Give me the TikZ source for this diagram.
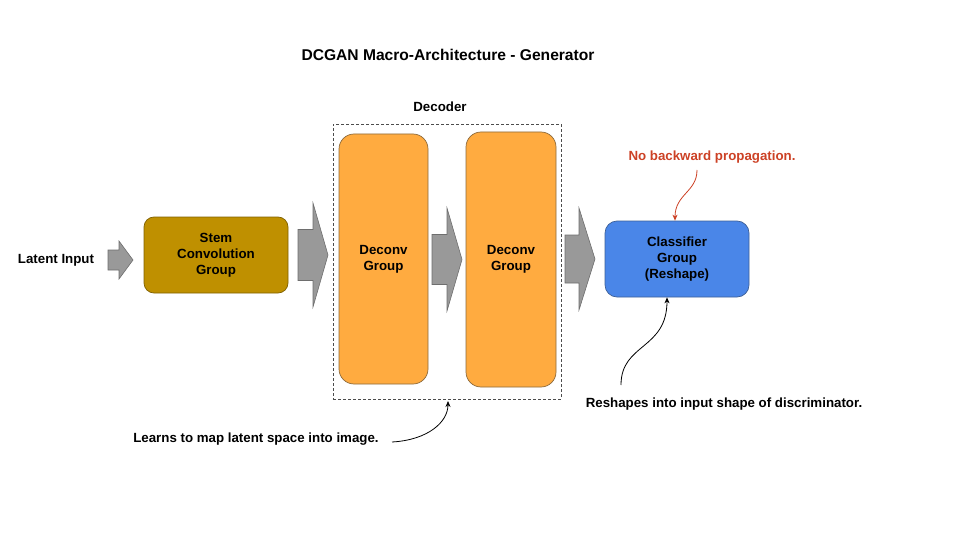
\documentclass[tikz,border=0pt]{standalone}
\usepackage{fontspec}
\setmainfont{Liberation Sans}
\usetikzlibrary{arrows.meta}
\definecolor{stemfill}{HTML}{BF9000}
\definecolor{stemline}{HTML}{7F6000}
\definecolor{decfill}{HTML}{FFAB40}
\definecolor{decline}{HTML}{8C6A3C}
\definecolor{clsfill}{HTML}{4A86E8}
\definecolor{clsline}{HTML}{3C5F96}
\definecolor{arrfill}{HTML}{999999}
\definecolor{arrline}{HTML}{6E6E6E}
\definecolor{notered}{HTML}{CC4125}
\newcommand{\txt}{\fontsize{13.3}{16}\selectfont\bfseries}
% block arrow: start, head start, tip, centre y, shaft half, head half
\newcommand{\blockarrow}[6]{\filldraw[blk] (#1,{#4-#5}) -- (#2,{#4-#5}) -- (#2,{#4-#6}) -- (#3,#4) -- (#2,{#4+#6}) -- (#2,{#4+#5}) -- (#1,{#4+#5}) -- cycle;}

\begin{document}
\begin{tikzpicture}[x=1pt, y=-1pt, anno/.style = {line width=0.8pt,-{Stealth[length = 6pt, width = 5pt]}}]
    \useasboundingbox (0,0) rectangle (960,540);
    \tikzstyle{blk}=[fill=arrfill, draw=arrline, line width=0.6pt]
    \tikzstyle{box}=[draw, line width=0.7pt, align=center, font=\txt, inner sep=0pt]
    \tikzstyle{lbl}=[align=center, font=\txt, inner sep=0pt]

    \node[lbl, font=\fontsize{15.6}{18}\selectfont\bfseries] (title) at (448,55) {DCGAN Macro-Architecture - Generator};

    \node[lbl] (latent) at (56,260) {Latent Input};
    \node[box, fill=stemfill, draw=stemline, rounded corners=10pt, minimum width=144pt, minimum height=76pt] (stem) at (216,255) {Stem\\Convolution\\Group};

    \node[box, draw=black!70, dashed, dash pattern=on 3pt off 2pt, line width=0.6pt, rounded corners=0pt, minimum width=228pt, minimum height=275pt] (decoder) at (447,261.5) {};
    \node[lbl] (declbl) at (440,107) {Decoder};
    \node[box, fill=decfill, draw=decline, rounded corners=15pt, minimum width=89pt, minimum height=250pt] (dec1) at (383.5,259) {Deconv\\Group};
    \node[box, fill=decfill, draw=decline, rounded corners=15pt, minimum width=90pt, minimum height=255pt] (dec2) at (511,259.5) {Deconv\\Group};

    \node[box, fill=clsfill, draw=clsline, rounded corners=12pt, minimum width=144pt, minimum height=76pt] (cls) at (677,259) {Classifier\\Group\\(Reshape)};

    \blockarrow{108}{119}{133}{260}{10}{19}
    \blockarrow{298}{313}{328}{255}{25.5}{52}
    \blockarrow{432}{447}{462}{259.5}{25}{51.5}
    \blockarrow{565}{579}{595}{259}{24}{51}

    \node[lbl, text=notered] (nobp) at (712,157) {No backward propagation.};
    \node[lbl] (reshape) at (724,404) {Reshapes into input shape of discriminator.};
    \node[lbl] (learns) at (256,439) {Learns to map latent space into image.};

    \coordinate (r0) at (697,170);
    \coordinate (b0) at (621,385);
    \coordinate (l0) at (392,442);
    \coordinate (l1) at (448,401);

    \draw [anno, notered] (r0) .. controls (697,192) and (675,194) .. (cls.north -| 675,0);
    \draw [anno] (b0) .. controls (621,343) and (667,350) .. (cls.south -| 667,0);
    \draw [anno] (l0) .. controls (428,440) and (448,422) .. (l1);
\end{tikzpicture}
\end{document}
